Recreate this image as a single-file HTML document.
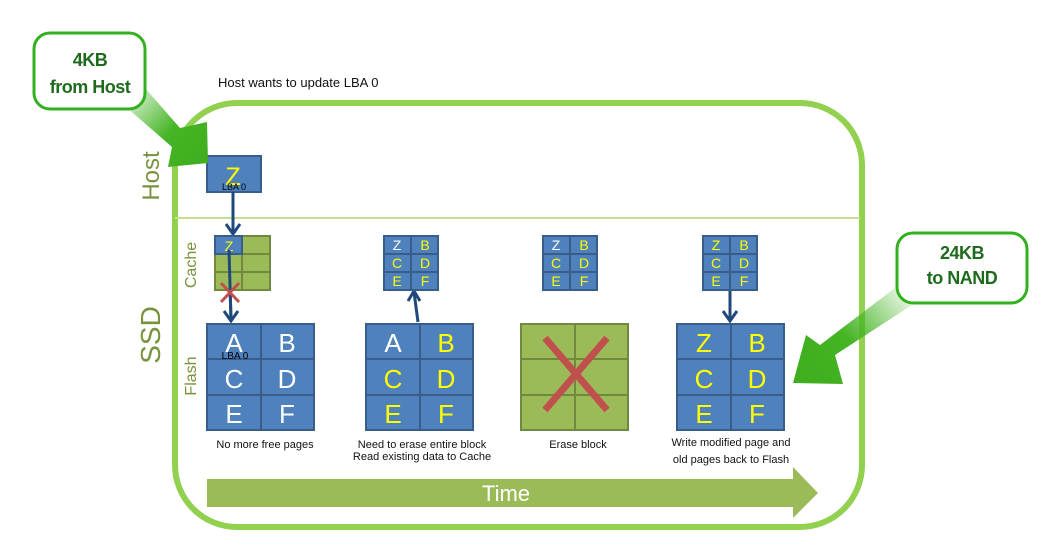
<!DOCTYPE html>
<html><head><meta charset="utf-8"><style>
html,body{margin:0;padding:0;background:#fff;}
svg{display:block;font-family:"Liberation Sans",sans-serif;}
</style></head><body>
<svg width="1050" height="554" viewBox="0 0 1050 554" xmlns="http://www.w3.org/2000/svg">
<defs>
<linearGradient id="g1" x1="125" y1="90" x2="200" y2="160" gradientUnits="userSpaceOnUse">
<stop offset="0" stop-color="#46b525" stop-opacity="0.1"/><stop offset="0.6" stop-color="#46b525"/><stop offset="1" stop-color="#3fae1f"/></linearGradient>
<linearGradient id="g2" x1="905" y1="290" x2="810" y2="370" gradientUnits="userSpaceOnUse">
<stop offset="0" stop-color="#46b525" stop-opacity="0.1"/><stop offset="0.6" stop-color="#46b525"/><stop offset="1" stop-color="#3fae1f"/></linearGradient>
</defs>
<rect x="175" y="103" width="687" height="424" rx="62" fill="none" stroke="#92d050" stroke-width="6"/>
<line x1="175" y1="218" x2="860" y2="218" stroke="#c3e08f" stroke-width="2"/>
<text x="218" y="87" font-size="13" fill="#111">Host wants to update LBA 0</text>
<g fill="#77933c">
<text transform="translate(159,176) rotate(-90)" font-size="24" text-anchor="middle">Host</text>
<text transform="translate(160,335) rotate(-90)" font-size="28" text-anchor="middle">SSD</text>
<text transform="translate(196,265) rotate(-90)" font-size="16" text-anchor="middle">Cache</text>
<text transform="translate(196,376) rotate(-90)" font-size="16" text-anchor="middle">Flash</text>
</g>
<rect x="207" y="156" width="54" height="36" fill="#4f81bd" stroke="#385d8a" stroke-width="2"/>
<text x="233" y="185" font-size="25" fill="#ffff00" text-anchor="middle">Z</text>
<text x="234" y="190" font-size="9" fill="#000" text-anchor="middle">LBA 0</text>
<g stroke="#1f497d" stroke-width="3" fill="none">
<line x1="233" y1="192" x2="233" y2="233"/><polyline points="226,224 233,234 240,224"/>
<line x1="229" y1="250" x2="231" y2="320"/><polyline points="224,311 231,321 238,311"/>
<line x1="418" y1="322" x2="414" y2="292"/><polyline points="408,301 414,291 420,301"/>
<line x1="730" y1="290" x2="730" y2="320"/><polyline points="723,311 730,321 737,311"/>
</g>
<g stroke="#71893f" stroke-width="2">
<rect x="215" y="236" width="55" height="54" fill="#9bbb59"/>
<line x1="242" y1="236" x2="242" y2="290"/><line x1="215" y1="254" x2="270" y2="254"/><line x1="215" y1="272" x2="270" y2="272"/>
</g>
<rect x="215" y="236" width="27" height="18" fill="#4f81bd" stroke="#385d8a" stroke-width="2"/>
<text x="229" y="251" font-size="14" fill="#ffff00" text-anchor="middle">Z</text>
<line x1="229" y1="250" x2="231" y2="320" stroke="#1f497d" stroke-width="3"/>
<g stroke="#c0504d" stroke-width="3"><line x1="221" y1="283" x2="239" y2="302"/><line x1="239" y1="283" x2="221" y2="302"/></g>
<g font-size="14" text-anchor="middle">
<g id="sc">
<rect x="384" y="236" width="54" height="54" fill="#4f81bd" stroke="#385d8a" stroke-width="2"/>
<g stroke="#385d8a" stroke-width="2"><line x1="411" y1="236" x2="411" y2="290"/><line x1="384" y1="254" x2="438" y2="254"/><line x1="384" y1="272" x2="438" y2="272"/></g>
<text x="397" y="250" fill="#fff">Z</text><text x="425" y="250" fill="#ffff00">B</text>
<text x="397" y="268" fill="#ffff00">C</text><text x="425" y="268" fill="#ffff00">D</text>
<text x="397" y="286" fill="#ffff00">E</text><text x="425" y="286" fill="#ffff00">F</text>
</g>
<use href="#sc" x="159"/>
<g>
<rect x="703" y="236" width="54" height="54" fill="#4f81bd" stroke="#385d8a" stroke-width="2"/>
<g stroke="#385d8a" stroke-width="2"><line x1="730" y1="236" x2="730" y2="290"/><line x1="703" y1="254" x2="757" y2="254"/><line x1="703" y1="272" x2="757" y2="272"/></g>
<text x="716" y="250" fill="#ffff00">Z</text><text x="744" y="250" fill="#ffff00">B</text>
<text x="716" y="268" fill="#ffff00">C</text><text x="744" y="268" fill="#ffff00">D</text>
<text x="716" y="286" fill="#ffff00">E</text><text x="744" y="286" fill="#ffff00">F</text>
</g>
</g>
<g font-size="26" text-anchor="middle">
<g>
<rect x="207" y="324" width="107" height="106" fill="#4f81bd" stroke="#385d8a" stroke-width="2"/>
<g stroke="#385d8a" stroke-width="2"><line x1="261" y1="324" x2="261" y2="430"/><line x1="207" y1="359" x2="314" y2="359"/><line x1="207" y1="395" x2="314" y2="395"/></g>
<g fill="#fff"><text x="234" y="352">A</text><text x="287" y="352">B</text><text x="234" y="388">C</text><text x="287" y="388">D</text><text x="234" y="423">E</text><text x="287" y="423">F</text></g>
<text x="235" y="359" font-size="10" fill="#000">LBA 0</text>
</g>
<g>
<rect x="366" y="324" width="107" height="106" fill="#4f81bd" stroke="#385d8a" stroke-width="2"/>
<g stroke="#385d8a" stroke-width="2"><line x1="420" y1="324" x2="420" y2="430"/><line x1="366" y1="359" x2="473" y2="359"/><line x1="366" y1="395" x2="473" y2="395"/></g>
<text x="393" y="352" fill="#fff">A</text>
<g fill="#ffff00"><text x="446" y="352">B</text><text x="393" y="388">C</text><text x="446" y="388">D</text><text x="393" y="423">E</text><text x="446" y="423">F</text></g>
</g>
<g>
<rect x="521" y="324" width="107" height="106" fill="#9bbb59" stroke="#71893f" stroke-width="2"/>
<g stroke="#71893f" stroke-width="2"><line x1="575" y1="324" x2="575" y2="430"/><line x1="521" y1="359" x2="628" y2="359"/><line x1="521" y1="395" x2="628" y2="395"/></g>
<g stroke="#c0504d" stroke-width="7"><line x1="545" y1="338" x2="607" y2="410"/><line x1="607" y1="338" x2="545" y2="410"/></g>
</g>
<g>
<rect x="677" y="324" width="107" height="106" fill="#4f81bd" stroke="#385d8a" stroke-width="2"/>
<g stroke="#385d8a" stroke-width="2"><line x1="731" y1="324" x2="731" y2="430"/><line x1="677" y1="359" x2="784" y2="359"/><line x1="677" y1="395" x2="784" y2="395"/></g>
<g fill="#ffff00"><text x="704" y="352">Z</text><text x="757" y="352">B</text><text x="704" y="388">C</text><text x="757" y="388">D</text><text x="704" y="423">E</text><text x="757" y="423">F</text></g>
</g>
</g>
<g font-size="11" fill="#111" text-anchor="middle">
<text x="265" y="448">No more free pages</text>
<text x="422" y="448">Need to erase entire block</text>
<text x="422" y="460">Read existing data to Cache</text>
<text x="578" y="448">Erase block</text>
<text x="731" y="446">Write modified page and</text>
<text x="731" y="463">old pages back to Flash</text>
</g>
<polygon points="207,479 793,479 793,467 818,493 793,518 793,507 207,507" fill="#9bbb59"/>
<text x="506" y="501" font-size="22" fill="#fff" text-anchor="middle">Time</text>
<polygon points="118,100 138,80 180,128 207,122 208,163 168,167 172,147" fill="url(#g1)"/>
<rect x="34" y="33" width="111" height="76" rx="16" fill="#fff" stroke="#33b020" stroke-width="3"/>
<text x="90" y="66" font-size="18" font-weight="bold" fill="#1e6b1e" text-anchor="middle" letter-spacing="-0.5">4KB</text>
<text x="90" y="93" font-size="18" font-weight="bold" fill="#1e6b1e" text-anchor="middle" letter-spacing="-0.5">from Host</text>
<polygon points="895,288 912,305 835,355 843,384 793,383 806,335 820,345" fill="url(#g2)"/>
<rect x="897" y="233" width="130" height="70" rx="16" fill="#fff" stroke="#33b020" stroke-width="3"/>
<text x="962" y="259" font-size="18" font-weight="bold" fill="#1e6b1e" text-anchor="middle" letter-spacing="-0.5">24KB</text>
<text x="962" y="284" font-size="18" font-weight="bold" fill="#1e6b1e" text-anchor="middle" letter-spacing="-0.5">to NAND</text>
</svg>
</body></html>
